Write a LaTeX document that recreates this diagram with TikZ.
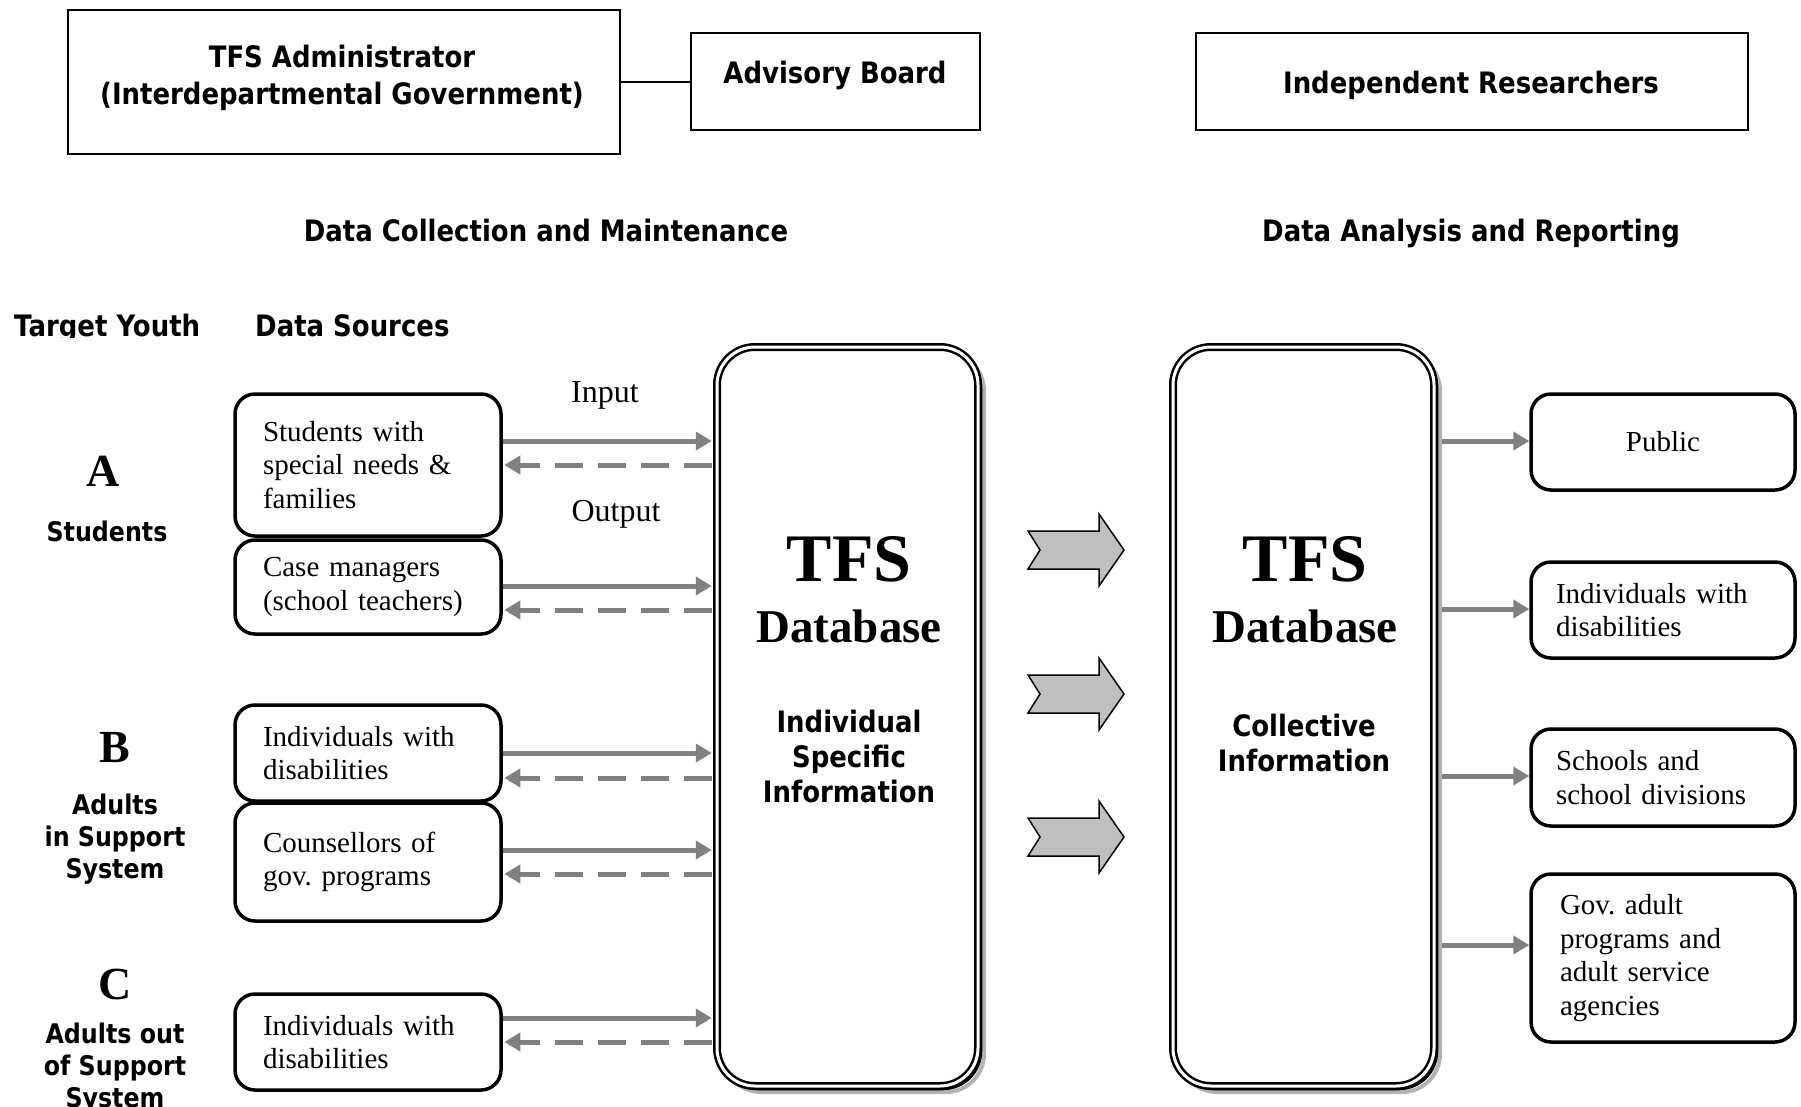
\documentclass[tikz,border=0pt]{standalone}
\usepackage{fontspec}
\setmainfont{Liberation Serif}
\newfontfamily\hsans[FakeStretch=0.88]{DejaVu Sans}
\usetikzlibrary{arrows.meta,calc}
\frenchspacing
\begin{document}
\begin{tikzpicture}[x=1pt,y=-1pt,
  hdr/.style={font=\hsans\bfseries\fontsize{29.5}{37}\selectfont, inner sep=0pt, align=center},
  lbl/.style={font=\hsans\bfseries\fontsize{27}{32}\selectfont, inner sep=0pt, align=center},
  dbtxt/.style={font=\hsans\bfseries\fontsize{29.5}{35}\selectfont, inner sep=0pt, align=center},
  bigtfs/.style={font=\bfseries\fontsize{68}{68}\selectfont, inner sep=0pt},
  bigdb/.style={font=\bfseries\fontsize{47}{47}\selectfont, inner sep=0pt},
  letter/.style={font=\bfseries\fontsize{46}{46}\selectfont, inner sep=0pt},
  iolbl/.style={font=\fontsize{32}{36}\selectfont, inner sep=0pt},
  topbox/.style={draw, line width=2pt, inner sep=0pt},
  srcbox/.style={draw, line width=3.5pt, rounded corners=20pt, inner sep=0pt,
    minimum width=266pt, text width=210pt, align=left,
    font=\fontsize{29}{33.5}\selectfont},
  dstbox/.style={draw, line width=3.5pt, rounded corners=20pt, inner sep=0pt,
    minimum width=264pt, text width=214pt, align=left,
    font=\fontsize{29}{33.5}\selectfont},
  dbbox/.style={draw=black, double=white, line width=2.5pt, double distance=3pt,
    fill=white, rounded corners=38pt, minimum width=261pt, minimum height=739pt, inner sep=0pt},
  inarr/.style={draw=gray, line width=5pt, -{Triangle[length=16pt,width=18pt]}},
  outarr/.style={draw=gray, line width=5pt, dash pattern=on 28pt off 15pt, -{Triangle[length=16pt,width=18pt]}},
  blockarr/.style={draw=black, line width=1.5pt, fill=black!25, line join=miter}
]
\useasboundingbox (0,0) rectangle (1801,1106);

% top row
\node[topbox, minimum width=552pt, minimum height=144pt] (admin) at (344,82) {};
\node[hdr] (adminT) at (342,78) {TFS Administrator\\(Interdepartmental Government)};
\node[topbox, minimum width=289pt, minimum height=97pt] (adv) at (835.5,81.5) {};
\node[hdr, anchor=base] (advT) at (835,83) {Advisory Board};
\node[topbox, minimum width=552pt, minimum height=97pt] (res) at (1472,81.5) {};
\node[hdr, anchor=base] (resT) at (1471,93) {Independent Researchers};
\draw[line width=1.5pt] (admin.east) -- (admin.east -| adv.west);

% headings
\node[hdr, anchor=base] (h1) at (546,241) {Data Collection and Maintenance};
\node[hdr, anchor=base] (h2) at (1471,241) {Data Analysis and Reporting};
\begin{scope}
  \clip (0,290) rectangle (240,337);
  \node[hdr, anchor=base west] (ty) at (14,336) {Target Youth};
\end{scope}
\node[hdr, anchor=base west] (ds) at (255,336) {Data Sources};

% left column labels
\node[letter] (lA) at (103,471) {A};
\node[lbl, anchor=base] (lAt) at (107,541) {Students};
\node[letter] (lB) at (115,747) {B};
\node[lbl] (lBt) at (115,839) {Adults\\in Support\\System};
\node[letter] (lC) at (115,984) {C};
\node[lbl] (lCt) at (115,1068) {Adults out\\of Support\\System};

% source boxes
\node[srcbox, minimum height=142pt] (s1) at (368,465) {Students with\\special needs \&\\families};
\node[srcbox, minimum height=94pt] (s2) at (368,587) {Case managers\\(school teachers)};
\node[srcbox, minimum height=96pt] (s3) at (368,753) {Individuals with\\disabilities};
\node[srcbox, minimum height=118pt] (s4) at (368,862) {Counsellors of\\gov. programs};
\node[srcbox, minimum height=96pt] (s5) at (368,1042) {Individuals with\\disabilities};

% database shadows
\foreach \cx in {847.5,1303.5} {
  \draw[gray!60, line width=4pt, rounded corners=38pt] (\cx-124.5,353) rectangle (\cx+136.5,1092);
  \draw[black, line width=2.5pt, rounded corners=38pt] (\cx-127.5,350) rectangle (\cx+133.5,1089);
}
% databases
\node[dbbox] (dbL) at (847.5,716.5) {};
\node[dbbox] (dbR) at (1303.5,716.5) {};
\node[bigtfs] (tfsL) at (849,559) {TFS};
\node[bigdb] (dbtL) at (849,626) {Database};
\node[dbtxt] (infL) at (849,756) {Individual\\Specific\\Information};
\node[bigtfs] (tfsR) at (1305,559) {TFS};
\node[bigdb] (dbtR) at (1305,626) {Database};
\node[dbtxt] (infR) at (1304,743) {Collective\\Information};

% input / output labels
\node[iolbl, anchor=base] (inL) at (605,402) {Input};
\node[iolbl, anchor=base] (outL) at (616,521) {Output};

% source arrows
\foreach \n/\sa/\sb in {s1/-24/0, s2/-1/23, s3/0/25, s4/-12/12, s5/-24/0} {
  \coordinate (in\n) at ($(\n.east)+(0,\sa)$);
  \coordinate (out\n) at ($(\n.east)+(0,\sb)$);
  \draw[inarr, shorten >=4pt] (in\n) -- (in\n -| dbL.west);
  \draw[outarr, shorten <=4pt, shorten >=1.5pt] (out\n -| dbL.west) -- (out\n);
}

% block arrows
\foreach \cy in {550,694,837} {
  \draw[blockarr] (1028,\cy-19) -- (1099,\cy-19) -- (1099,\cy-36) -- (1124,\cy)
    -- (1099,\cy+36) -- (1099,\cy+19) -- (1028,\cy+19) -- (1040,\cy) -- cycle;
}

% destination boxes
\node[dstbox, minimum height=96pt, align=center] (pub) at (1663,442) {Public};
\node[dstbox, minimum height=96pt] (ind) at (1663,610) {Individuals with\\disabilities};
\node[dstbox, minimum height=97pt] (sch) at (1663,777.5) {Schools and\\school divisions};
\node[dstbox, minimum height=168pt, text width=206pt] (gov) at (1663,958) {Gov. adult\\programs and\\adult service\\agencies};

\foreach \n/\dy in {pub/-1, ind/-1, sch/-1.5, gov/-13} {
  \coordinate (r\n) at ($(\n.west)+(0,\dy)$);
  \draw[inarr, shorten <=7pt] (r\n -| dbR.east) -- (r\n);
}
\end{tikzpicture}
\end{document}
